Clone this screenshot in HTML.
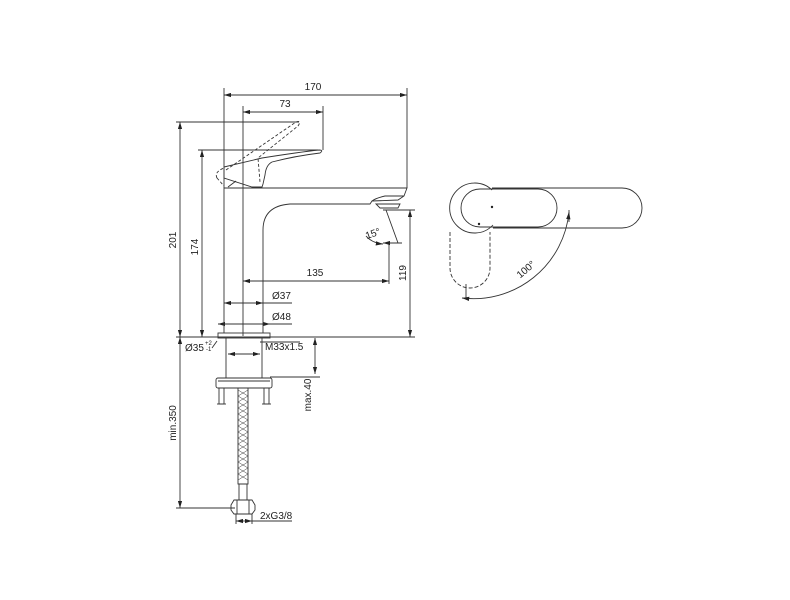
<!DOCTYPE html>
<html><head><meta charset="utf-8"><style>
html,body{margin:0;padding:0;background:#fff;}
svg{display:block;}
text{font-family:"Liberation Sans",sans-serif;font-size:10px;fill:#222;}
</style></head><body>
<svg width="790" height="600" viewBox="0 0 790 600" xmlns="http://www.w3.org/2000/svg">
<defs>
<marker id="a" viewBox="0 0 10 6" refX="10" refY="3" markerWidth="8" markerHeight="5" orient="auto-start-reverse"><path d="M0,0L10,3L0,6z" fill="#222"/></marker>
</defs>
<g stroke="#333" stroke-width="0.9" fill="none">
<line x1="224" y1="88" x2="224" y2="188"/>
<line x1="407" y1="88" x2="407" y2="188"/>
<line x1="243" y1="106" x2="243" y2="336"/>
<line x1="323" y1="106" x2="323" y2="150"/>
<line x1="176" y1="122" x2="299" y2="122"/>
<line x1="198" y1="150" x2="318" y2="150"/>
<line x1="176" y1="337" x2="415" y2="337"/>
<line x1="383" y1="210" x2="415" y2="210"/>
<line x1="389" y1="244" x2="389" y2="284"/>
<line x1="224" y1="95" x2="407" y2="95" marker-start="url(#a)" marker-end="url(#a)"/>
<line x1="243" y1="112" x2="323" y2="112" marker-start="url(#a)" marker-end="url(#a)"/>
<line x1="180" y1="122" x2="180" y2="337" marker-start="url(#a)" marker-end="url(#a)"/>
<line x1="202" y1="150" x2="202" y2="337" marker-start="url(#a)" marker-end="url(#a)"/>
<line x1="410" y1="210" x2="410" y2="337" marker-start="url(#a)" marker-end="url(#a)"/>
<line x1="243" y1="281" x2="389" y2="281" marker-start="url(#a)" marker-end="url(#a)"/>
<line x1="224" y1="303" x2="263" y2="303" marker-start="url(#a)" marker-end="url(#a)"/>
<line x1="263" y1="303" x2="292" y2="303"/>
<line x1="218" y1="324" x2="270" y2="324" marker-start="url(#a)" marker-end="url(#a)"/>
<line x1="270" y1="324" x2="292" y2="324"/>
<path d="M224,333 L224,188 L407,188 L404,196 L398,200 L372,201 L370,204 L290,204 Q263,206 263,230 L263,333"/>
<path d="M372,201 Q376,198 385,196 L404,196"/>
<path d="M376,204 L400,204 L398,208 L380,208 Z"/>
<line x1="386" y1="210" x2="398" y2="243"/>
<line x1="383" y1="243" x2="402" y2="243" marker-start="url(#a)"/>
<path d="M366,236 Q372,243 383,244" marker-end="url(#a)"/>
<!-- handle -->
<path d="M224,167 L262,158 Q300,152 319,150 Q324,150 320,153 Q295,156 272,162 Q266,165 265,175 L263,184 L262,187 L252,187 L224,178 Z"/>
<path d="M228,187 L236,181"/>
<path stroke-dasharray="3,2" d="M217,178 Q214,172 224,168 M217,178 L224,186 M226,170 L296,122 Q302,120 298,126 L258,158 L260,182"/>
<rect x="218" y="333" width="52" height="5"/>
<line x1="226" y1="338" x2="226" y2="378"/><line x1="262" y1="338" x2="262" y2="378"/>
<line x1="228" y1="354" x2="260" y2="354" marker-start="url(#a)" marker-end="url(#a)"/>
<line x1="217" y1="341" x2="212" y2="348"/>
<line x1="260" y1="342" x2="300" y2="342"/>
<rect x="216" y="378" width="56" height="10" rx="2"/>
<line x1="218" y1="381" x2="270" y2="381"/>
<rect x="219" y="388" width="5" height="16"/><rect x="264" y="388" width="5" height="16"/>
<line x1="217" y1="404" x2="226" y2="404"/><line x1="262" y1="404" x2="271" y2="404"/>
<rect x="238" y="388" width="10" height="96"/>
<path stroke-width="0.5" d="M238,390 L248,396 M238,396 L248,402 M238,402 L248,408 M238,408 L248,414 M238,414 L248,420 M238,420 L248,426 M238,426 L248,432 M238,432 L248,438 M238,438 L248,444 M238,444 L248,450 M238,450 L248,456 M238,456 L248,462 M238,462 L248,468 M238,468 L248,474 M238,474 L248,480 M248,390 L238,396 M248,396 L238,402 M248,402 L238,408 M248,408 L238,414 M248,414 L238,420 M248,420 L238,426 M248,426 L238,432 M248,432 L238,438 M248,438 L238,444 M248,444 L238,450 M248,450 L238,456 M248,456 L238,462 M248,462 L238,468 M248,468 L238,474 M248,474 L238,480"/>
<rect x="239" y="484" width="8" height="16"/>
<path d="M234,500 L252,500 L255,505 L255,510 L252,514 L234,514 L231,510 L231,505 Z"/>
<line x1="237" y1="500" x2="237" y2="514"/><line x1="249" y1="500" x2="249" y2="514"/>
<line x1="236" y1="521" x2="252" y2="521" marker-start="url(#a)" marker-end="url(#a)"/>
<line x1="252" y1="521" x2="292" y2="521"/>
<line x1="236" y1="514" x2="236" y2="524"/><line x1="252" y1="514" x2="252" y2="524"/>
<line x1="176" y1="508" x2="235" y2="508"/>
<line x1="180" y1="337" x2="180" y2="508" marker-start="url(#a)" marker-end="url(#a)"/>
<line x1="270" y1="377" x2="320" y2="377"/>
<line x1="315" y1="338" x2="315" y2="374" marker-start="url(#a)" marker-end="url(#a)"/>
<!-- plan view -->
<path d="M492,190 A25,25 0 1 0 493,225"/>
<path d="M492,188 L622,188 A20,20 0 0 1 622,228 L493,228"/>
<path d="M480,189 L538,189 A19,19 0 0 1 538,227 L480,227 A19,19 0 0 1 480,189 Z"/>
<path stroke-dasharray="4,2" d="M450,232 L450,268 A20,20 0 0 0 490,268 L490,232"/>
<line x1="466" y1="284" x2="466" y2="298"/>
<line x1="569" y1="210" x2="569" y2="222"/>
<path d="M569,212 A96,96 0 0 1 462,298" marker-start="url(#a)" marker-end="url(#a)"/>
</g>
<circle cx="492" cy="207" r="1.2" fill="#222"/><circle cx="479" cy="224" r="1.2" fill="#222"/>
<text x="313" y="90" text-anchor="middle">170</text>
<text x="285" y="107" text-anchor="middle">73</text>
<text x="315" y="276" text-anchor="middle">135</text>
<text x="272" y="299">Ø37</text>
<text x="272" y="320">Ø48</text>
<text x="185" y="351">Ø35</text><text x="205" y="345" style="font-size:6px">+2</text><text x="206" y="351" style="font-size:6px">-1</text>
<text x="265" y="350">M33x1.5</text>
<text x="260" y="519">2xG3/8</text>
<text x="366" y="238" transform="rotate(-20 370 236)">15°</text>
<text transform="translate(176,240) rotate(-90)" text-anchor="middle">201</text>
<text transform="translate(198,247) rotate(-90)" text-anchor="middle">174</text>
<text transform="translate(406,273) rotate(-90)" text-anchor="middle">119</text>
<text transform="translate(311,395) rotate(-90)" text-anchor="middle">max.40</text>
<text transform="translate(176,423) rotate(-90)" text-anchor="middle">min.350</text>
<text transform="translate(528,272) rotate(-40)" text-anchor="middle">100°</text>
</svg>
</body></html>
